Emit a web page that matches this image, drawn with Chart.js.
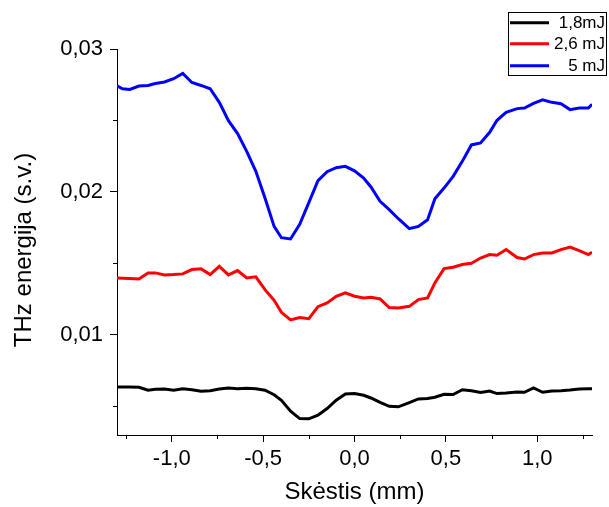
<!DOCTYPE html>
<html>
<head>
<meta charset="utf-8">
<script src="https://cdn.jsdelivr.net/npm/chart.js@4/dist/chart.umd.min.js"></script>
<style>
  html, body { margin: 0; padding: 0; background: #ffffff; }
  #wrap { width: 609px; height: 507px; }
</style>
</head>
<body>
<div id="wrap"><canvas id="chart" width="609" height="507"></canvas></div>
<script>
// Aperture positions (mm)
const positionsMm = [-1.30, -1.27, -1.23, -1.18, -1.13, -1.09, -1.04, -0.99, -0.94, -0.89,
  -0.84, -0.79, -0.74, -0.69, -0.64, -0.59, -0.54, -0.49, -0.44, -0.40,
  -0.35, -0.30, -0.25, -0.20, -0.15, -0.10, -0.05, 0.00, 0.05, 0.09,
  0.14, 0.19, 0.24, 0.30, 0.35, 0.40, 0.44, 0.49, 0.54, 0.59,
  0.64, 0.69, 0.74, 0.78, 0.83, 0.89, 0.93, 0.98, 1.03, 1.08,
  1.13, 1.18, 1.23, 1.28, 1.30];

// THz energy (arb. units) for each pump energy
const energy18mJ = [0.00636, 0.00636, 0.00635, 0.00634, 0.00613, 0.00620, 0.00622, 0.00613, 0.00624, 0.00617,
  0.00606, 0.00610, 0.00622, 0.00629, 0.00624, 0.00627, 0.00624, 0.00613, 0.00582, 0.00543,
  0.00467, 0.00415, 0.00413, 0.00438, 0.00485, 0.00543, 0.00587, 0.00590, 0.00578, 0.00559,
  0.00529, 0.00501, 0.00497, 0.00527, 0.00552, 0.00555, 0.00564, 0.00585, 0.00583, 0.00617,
  0.00610, 0.00597, 0.00608, 0.00590, 0.00594, 0.00601, 0.00599, 0.00629, 0.00599, 0.00608,
  0.00610, 0.00615, 0.00622, 0.00624, 0.00624];

const energy26mJ = [0.01399, 0.01397, 0.01395, 0.01392, 0.01434, 0.01434, 0.01420, 0.01422, 0.01427, 0.01457,
  0.01462, 0.01422, 0.01480, 0.01420, 0.01450, 0.01399, 0.01406, 0.01317, 0.01242, 0.01158,
  0.01105, 0.01121, 0.01114, 0.01198, 0.01224, 0.01270, 0.01294, 0.01271, 0.01259, 0.01263,
  0.01252, 0.01191, 0.01189, 0.01200, 0.01247, 0.01259, 0.01364, 0.01464, 0.01473, 0.01492,
  0.01501, 0.01538, 0.01562, 0.01557, 0.01597, 0.01541, 0.01531, 0.01562, 0.01573, 0.01573,
  0.01597, 0.01615, 0.01590, 0.01562, 0.01578];

const energy5mJ = [0.02743, 0.02722, 0.02717, 0.02741, 0.02745, 0.02759, 0.02769, 0.02792, 0.02829, 0.02766,
  0.02745, 0.02722, 0.02627, 0.02499, 0.02408, 0.02284, 0.02144, 0.01958, 0.01759, 0.01680,
  0.01671, 0.01773, 0.01925, 0.02079, 0.02142, 0.02170, 0.02179, 0.02148, 0.02098, 0.02035,
  0.01934, 0.01876, 0.01813, 0.01743, 0.01759, 0.01806, 0.01953, 0.02027, 0.02109, 0.02214,
  0.02329, 0.02343, 0.02417, 0.02501, 0.02557, 0.02583, 0.02587, 0.02620, 0.02645, 0.02627,
  0.02617, 0.02576, 0.02587, 0.02587, 0.02613];

const seriesLabels = ['1,8mJ', '2,6 mJ', '5 mJ'];
const seriesColors = ['#000000', '#ff0000', '#0000ff'];

// Axis ticks and titles
const xTickValues = [-1.0, -0.5, 0.0, 0.5, 1.0];
const xTickLabels = ['-1,0', '-0,5', '0,0', '0,5', '1,0'];
const xMinorTicks = [-1.25, -0.75, -0.25, 0.25, 0.75, 1.25];
const yTickValues = [0.01, 0.02, 0.03];
const yTickLabels = ['0,01', '0,02', '0,03'];
const yMinorTicks = [0.005, 0.015, 0.025];
const xTitle = 'Skėstis (mm)';
const yTitle = 'THz energija (s.v.)';

const FONT = 'Arial, "Liberation Sans", sans-serif';

function toPoints(values) {
  return values.map((v, i) => ({ x: positionsMm[i], y: v }));
}

// Short minor ticks on both axes
const minorTicksPlugin = {
  id: 'minorTicks',
  afterDraw(chart) {
    const { ctx, chartArea, scales } = chart;
    ctx.save();
    ctx.strokeStyle = '#000000';
    ctx.lineWidth = 1;
    ctx.beginPath();
    xMinorTicks.forEach(v => {
      const px = Math.round(scales.x.getPixelForValue(v)) + 0.5;
      ctx.moveTo(px, chartArea.bottom);
      ctx.lineTo(px, chartArea.bottom + 4);
    });
    yMinorTicks.forEach(v => {
      const py = Math.round(scales.y.getPixelForValue(v)) + 0.5;
      ctx.moveTo(chartArea.left - 4, py);
      ctx.lineTo(chartArea.left, py);
    });
    ctx.stroke();
    ctx.restore();
  }
};

// Vertical axis title, set a little below the plot's middle
const yTitlePlugin = {
  id: 'yTitle',
  afterDraw(chart) {
    const { ctx, chartArea } = chart;
    ctx.save();
    ctx.translate(24, (chartArea.top + chartArea.bottom) / 2 + 8);
    ctx.rotate(-Math.PI / 2);
    ctx.font = '24px ' + FONT;
    ctx.fillStyle = '#000000';
    ctx.textAlign = 'center';
    ctx.textBaseline = 'middle';
    ctx.fillText(yTitle, 0, 0);
    ctx.restore();
  }
};

// Boxed legend in the top-right corner, labels right-aligned
const boxLegendPlugin = {
  id: 'boxLegend',
  afterDraw(chart) {
    const { ctx } = chart;
    const box = { x: 508.5, y: 12.5, w: 98, h: 63 };
    const rowY = [22.7, 43.7, 65.7];
    ctx.save();
    ctx.strokeStyle = '#000000';
    ctx.lineWidth = 1;
    ctx.strokeRect(box.x, box.y, box.w, box.h);
    ctx.font = '17px ' + FONT;
    ctx.textAlign = 'right';
    ctx.textBaseline = 'middle';
    chart.data.datasets.forEach((ds, i) => {
      ctx.strokeStyle = ds.borderColor;
      ctx.lineWidth = 3;
      ctx.beginPath();
      ctx.moveTo(510, rowY[i]);
      ctx.lineTo(549, rowY[i]);
      ctx.stroke();
      ctx.fillStyle = '#000000';
      ctx.fillText(ds.label, 605, rowY[i] + 1);
    });
    ctx.restore();
  }
};

const datasets = [energy18mJ, energy26mJ, energy5mJ].map((vals, i) => ({
  label: seriesLabels[i],
  data: toPoints(vals),
  borderColor: seriesColors[i],
  backgroundColor: seriesColors[i],
  borderWidth: 3,
  pointRadius: 0,
  tension: 0,
  fill: false
}));

new Chart(document.getElementById('chart'), {
  type: 'line',
  data: { datasets },
  options: {
    responsive: false,
    animation: false,
    devicePixelRatio: 1,
    layout: { padding: { top: 49, right: 17, left: 0, bottom: 0 } },
    plugins: {
      legend: { display: false },
      tooltip: { enabled: false }
    },
    scales: {
      x: {
        type: 'linear',
        min: -1.3,
        max: 1.3,
        afterBuildTicks: (scale) => { scale.ticks = xTickValues.map(v => ({ value: v })); },
        afterFit: (scale) => { scale.height = 72; },
        ticks: {
          color: '#000000',
          font: { family: FONT, size: 22 },
          padding: 4,
          maxRotation: 0,
          autoSkip: false,
          callback: (value, index) => xTickLabels[index]
        },
        grid: { drawOnChartArea: false, drawTicks: true, tickLength: 7, color: '#000000', lineWidth: 1 },
        border: { display: true, color: '#000000', width: 1 },
        title: {
          display: true,
          text: xTitle,
          color: '#000000',
          font: { family: FONT, size: 24 },
          padding: { top: 0, bottom: 0 }
        }
      },
      y: {
        type: 'linear',
        min: 0.003,
        max: 0.03,
        afterBuildTicks: (scale) => { scale.ticks = yTickValues.map(v => ({ value: v })); },
        afterFit: (scale) => { scale.width = 117; },
        ticks: {
          color: '#000000',
          font: { family: FONT, size: 22 },
          padding: 7,
          autoSkip: false,
          callback: (value, index) => yTickLabels[index]
        },
        grid: { drawOnChartArea: false, drawTicks: true, tickLength: 7, color: '#000000', lineWidth: 1 },
        border: { display: true, color: '#000000', width: 1 },
        title: { display: false }
      }
    }
  },
  plugins: [minorTicksPlugin, yTitlePlugin, boxLegendPlugin]
});
</script>
</body>
</html>
